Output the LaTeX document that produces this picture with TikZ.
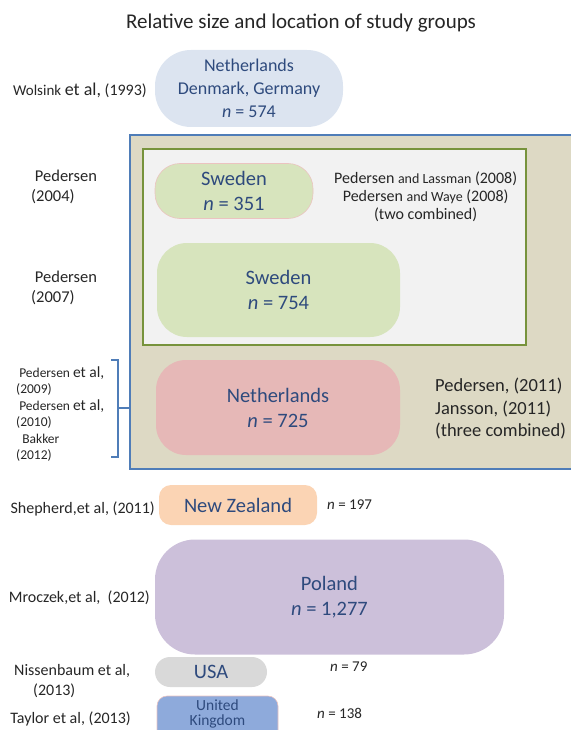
\documentclass[tikz,border=0pt]{standalone}
\usepackage{fontspec}
\setmainfont{Carlito}
\usepackage{tikz}
\usetikzlibrary{calc}

\definecolor{boxtext}{HTML}{2E4A7D}
\definecolor{labtext}{HTML}{262626}
\definecolor{outerfill}{HTML}{DDD9C4}
\definecolor{outerline}{HTML}{4F7DB8}
\definecolor{innerfill}{HTML}{F2F2F2}
\definecolor{innerline}{HTML}{77933C}
\definecolor{wolfill}{HTML}{DCE4F0}
\definecolor{swefill}{HTML}{D7E4BD}
\definecolor{nlfill}{HTML}{E6B8B7}
\definecolor{nzfill}{HTML}{FBD4B4}
\definecolor{polfill}{HTML}{CCC0DA}
\definecolor{usafill}{HTML}{D9D9D9}
\definecolor{ukfill}{HTML}{8EAADB}
\definecolor{pinkline}{HTML}{EBC3C0}

\newcommand{\fs}[2]{\fontsize{#1}{#2}\selectfont}
\newcommand{\nn}{\textit{n}}

\begin{document}
\begin{tikzpicture}[x=1pt, y=-1pt,
        group/.style={rectangle, align=center, text=boxtext, inner sep=0pt, font=\fs{20.5}{25}},
        cite/.style={align=left, text=labtext, inner sep=0pt, font=\fs{16}{20}},
        small/.style={align=left, text=labtext, inner sep=0pt, font=\fs{13.5}{16.4}},
        count/.style={anchor=west, text=labtext, inner sep=0pt, font=\fs{15}{18}}
      ]
    \useasboundingbox (0,0) rectangle (570,730);

    \node[text=labtext, font=\fs{21}{25}] (title) at (301,23) {Relative size and location of study groups};

    % study groups before the nested boxes
    \node[group, fill=wolfill, font=\fs{18}{23}, minimum width=188pt, minimum height=77pt, rounded corners=36pt] (wol) at (249,88.5)
      {Netherlands\\Denmark, Germany\\\nn{} = 574};
    \node[cite, anchor=east] (wollab) at (147,90) {{\fs{15}{16}Wolsink} {\fs{18}{18}et al,} (1993)};

    % nested boxes
    \node[draw=outerline, line width=2pt, fill=outerfill, inner sep=0pt, minimum width=446pt, minimum height=334pt, anchor=north west] (outer) at (129,134) {};
    \node[draw=innerline, line width=2pt, fill=innerfill, inner sep=0pt, minimum width=383pt, minimum height=196pt, anchor=north west] (inner) at (142,148) {};

    \node[group, fill=swefill, draw=pinkline, line width=0.6pt, minimum width=158pt, minimum height=55pt, rounded corners=25pt] (swe1) at (234,191)
      {Sweden\\\nn{} = 351};
    \node[group, fill=swefill, minimum width=243pt, minimum height=94pt, rounded corners=30pt] (swe2) at (278.5,290)
      {Sweden\\\nn{} = 754};
    \node[group, fill=nlfill, minimum width=244pt, minimum height=95pt, rounded corners=30pt] (nl) at (278,407.5)
      {Netherlands\\\nn{} = 725};

    \node[cite, anchor=north west, align=center, font=\fs{16}{18}] (swe1txt) at (334,172)
      {Pedersen {\fs{14}{18}and Lassman} (2008)\\Pedersen {\fs{14}{18}and Waye} (2008)\\(two combined)};
    \node[cite, anchor=west, font=\fs{18.5}{22.5}] (nltxt) at (435,409)
      {Pedersen, (2011)\\Jansson, (2011)\\(three combined)};

    \node[cite, anchor=west, font=\fs{16.5}{20}] (swe1lab) at (31,187) {\ Pedersen\\(2004)};
    \node[cite, anchor=west, font=\fs{16.5}{20}] (swe2lab) at (31,288) {\ Pedersen\\(2007)};
    \node[small, anchor=west] (nllab) at (16,414)
      {\ Pedersen {\fs{15.5}{16.4}et al,}\\(2009)\\\ Pedersen {\fs{15.5}{16.4}et al,}\\(2010)\\\ \ Bakker\\(2012)};
    \draw[outerline, line width=1.2pt] (111,360) -- (118,360) -- (118,457) -- (111,457);
    \draw[outerline, line width=1.2pt] (118,408) -- (outer.west |- 0,408);

    % study groups after the nested boxes
    \node[group, fill=nzfill, minimum width=158pt, minimum height=40pt, rounded corners=12pt] (nz) at (238,505) {New Zealand};
    \node[group, fill=polfill, minimum width=349pt, minimum height=115pt, rounded corners=40pt] (pol) at (329.5,597)
      {Poland\\\nn{} = 1,277};
    \node[group, fill=usafill, minimum width=112pt, minimum height=30pt, rounded corners=15pt] (usa) at (211,672) {USA};
    \node[group, fill=ukfill, draw=pinkline, line width=0.6pt, font=\fs{15.5}{14}, minimum width=121pt, minimum height=50pt, rounded corners=10pt] (uk) at (217.5,721)
      {\raisebox{6.5pt}[\height][\depth]{\begin{tabular}{@{}c@{}}United\\Kingdom\end{tabular}}};

    \node[cite, anchor=east] (nzlab) at (155,509) {Shepherd,et al, (2011)};
    \node[cite, anchor=east] (pollab) at (150,598) {Mroczek,et al,\ \ (2012)};
    \node[cite, anchor=west] (usalab) at (14,681) {Nissenbaum et al,\\\hspace*{19pt}(2013)};
    \node[cite, anchor=east] (uklab) at (131,719) {Taylor et al, (2013)};

    \node[count] (nzn) at (327,505) {\nn{} = 197};
    \node[count] (usan) at (330,667) {\nn{} = 79};
    \node[count] (ukn) at (317,713) {\nn{} = 138};

    \end{tikzpicture}
\end{document}
